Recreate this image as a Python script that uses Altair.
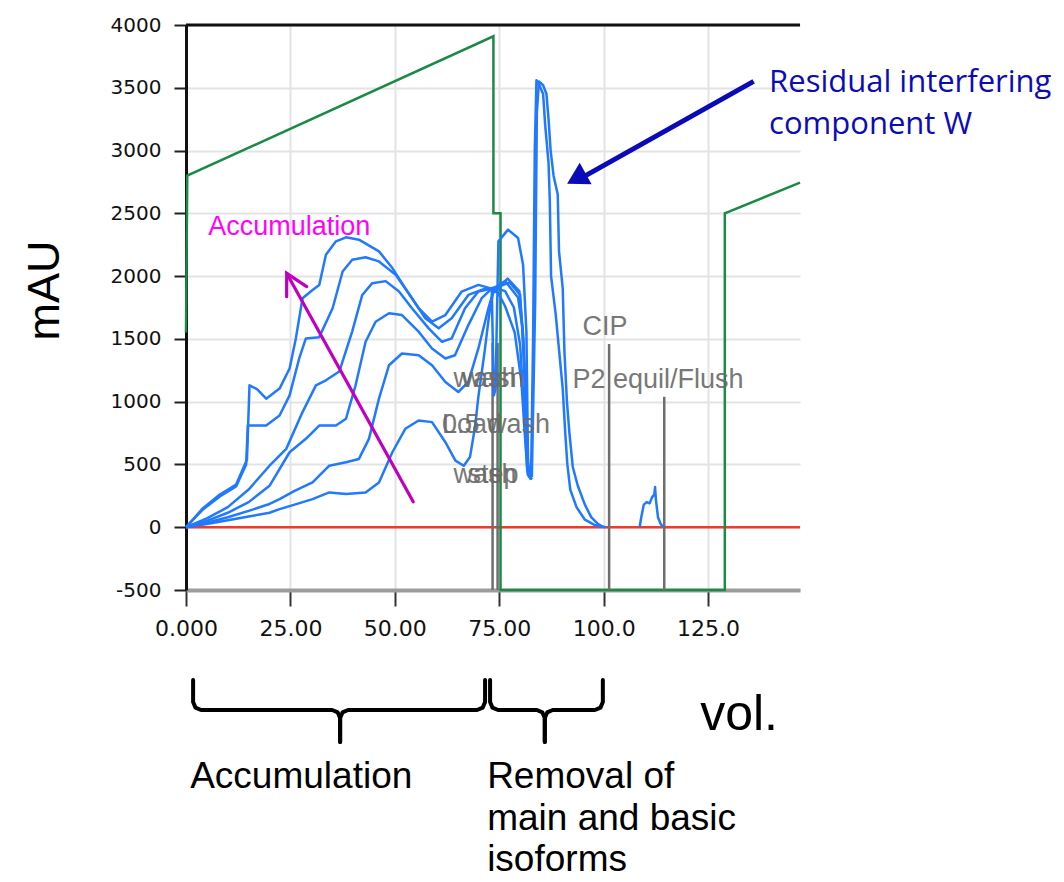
import altair as alt
import pandas as pd

# ---------------------------------------------------------------------------
# UV trace (mAU) against volume for six loading runs, then wash / elution
# ---------------------------------------------------------------------------
t1_x = [0, 5, 10, 15, 20, 22.4, 26, 30.3, 34.3, 38.3, 43, 46.2, 49.4, 52.5, 55.7, 58.9, 62.1, 64.5, 66.5, 68,
        69.2, 70, 71.5, 72.6, 73.5, 74.5, 76.4, 78.7, 80.3, 81.2, 81.8, 82.6]
t1_y = [0, 25, 55, 85, 115, 144, 180, 224, 277, 264, 277, 357, 597, 784, 850, 837, 677, 530, 490, 560,
        800, 1040, 1400, 1700, 1870, 1880, 1760, 1550, 1160, 700, 420, 380]

t2_x = [0, 5, 10, 15, 20, 22.4, 26, 30.3, 34.3, 38.3, 41.4, 43.8, 46.2, 48.6, 51.7, 55.7, 58.9, 62.1, 65.2,
        67.6, 70, 72.4, 73.6, 74.5, 76.4, 78.5, 80.0, 81.0, 81.7, 82.6]
t2_y = [0, 35, 80, 130, 185, 224, 290, 357, 490, 517, 544, 704, 1024, 1290, 1384, 1370, 1290, 1157, 1077,
        1157, 1424, 1744, 1880, 1900, 1880, 1750, 1450, 900, 450, 400]

t3_x = [0, 5, 10, 15, 20, 24.8, 28.7, 31.9, 35.9, 38.3, 40.6, 43, 45.4, 48.6, 51.7, 55.7, 58.9, 62.1, 64.4,
        67.6, 70.8, 73.2, 74.5, 76.4, 79.5, 80.5, 81.2, 81.8, 82.6]
t3_y = [0, 50, 115, 200, 330, 597, 704, 810, 810, 864, 1130, 1477, 1637, 1704, 1690, 1557, 1424, 1344, 1370,
        1610, 1824, 1900, 1920, 1960, 1830, 1600, 1100, 500, 390]

t4_x = [0, 5, 10, 15, 20, 24, 27.9, 31.1, 33.5, 36.7, 39.8, 42.2, 44.6, 47.8, 51, 54.1, 58.1, 61.3, 63.6,
        66.8, 70, 73, 74.5, 77, 79.8, 80.8, 81.5, 82.0, 82.8]
t4_y = [0, 70, 160, 300, 490, 624, 917, 1130, 1170, 1240, 1560, 1850, 1944, 1960, 1877, 1744, 1584, 1477, 1504,
        1744, 1877, 1900, 1900, 1980, 1880, 1500, 800, 430, 400]

t5_x = [0, 4, 8.1, 12, 14.4, 14.8, 19.2, 22.4, 24.8, 27.1, 28.7, 31.9, 35.1, 37.5, 39.8, 43, 46.2, 50.2, 54.1,
        57.3, 60.5, 63.6, 67.6, 71.6, 74.5, 77.5, 80.0, 81.0, 81.6, 82.2, 82.8]
t5_y = [0, 140, 245, 325, 500, 810, 810, 890, 1050, 1344, 1504, 1514, 1744, 2037, 2130, 2150, 2117, 2010, 1824,
        1664, 1584, 1664, 1850, 1900, 1910, 1950, 1850, 1300, 600, 410, 380]

t6_x = [0, 4, 8.1, 12, 14.6, 15.2, 17, 19.2, 22.4, 24.8, 26.3, 27.9, 30.3, 31.9, 33.5, 35.9, 38.3, 41.4, 46.2,
        49.4, 52.5, 55.7, 58.9, 62.1, 66, 70, 73.2, 73.7, 74.1, 74.8, 77.1, 79.5, 80.7, 81.5, 81.9, 82.6]
t6_y = [0, 150, 260, 340, 540, 1130, 1100, 1024, 1104, 1264, 1504, 1824, 1890, 1930, 2170, 2277, 2309, 2290, 2197,
        2064, 1904, 1744, 1637, 1690, 1877, 1930, 1900, 1050, 1100, 2277, 2370, 2304, 2090, 1557, 490, 410]

# residual interfering component W (two overlapping runs)
w1_x = [82.6, 83.1, 83.5, 83.9, 84.6, 85.5, 86.0, 86.8, 87.1, 87.4, 88.5, 90.2, 90.8, 91.3, 92.0, 93.5, 95.5,
        98.0, 100.5]
w1_y = [380, 1500, 3000, 3560, 3520, 3450, 3200, 2900, 2600, 2000, 1700, 1100, 750, 500, 300, 160, 60, 15, 0]
w2_x = [82.8, 83.6, 84.0, 84.5, 85.5, 86.3, 86.8, 87.3, 88.0, 89.0, 89.3, 90.2, 90.6, 91.2, 91.8, 92.6, 93.8,
        95.5, 97.0, 98.5, 100.0]
w2_y = [400, 1800, 3300, 3550, 3520, 3450, 3250, 3000, 2800, 2650, 2200, 1900, 1400, 1000, 750, 480, 330, 180,
        80, 30, 0]

# small peak during equilibration
s_x = [108.6, 109.0, 109.6, 110.3, 111.0, 111.6, 112.1, 112.3, 112.5, 113.0, 113.6, 114.2]
s_y = [0, 80, 180, 200, 190, 240, 260, 320, 220, 80, 30, 0]

# gradient / conductivity trace (green) and baseline (red)
green_x = [0, 0.3, 73.6, 73.6, 75.3, 75.3, 129.0, 129.0, 147]
green_y = [1550, 2800, 3910, 2500, 2500, -500, -500, 2500, 2745]
red_x = [0, 147]
red_y = [0, 0]

# run events
ev_x = [73.4, 74.6, 101.3, 114.5]
ev_top = [1467, 1467, 1459, 1039]
ev_text = ["wash", "wash", "Load", "0.5 wash", "wash", "step", "CIP", "P2 equil/Flush"]
ev_text_x = [71.6, 73.5, 68.5, 74.2, 71.6, 73.5, 100.3, 113.0]
ev_text_y = [1117, 1117, 750, 750, 351, 351, 1531, 1109]

x_ticks = [0, 25, 50, 75, 100, 125]
y_ticks = [-500, 0, 500, 1000, 1500, 2000, 2500, 3000, 3500, 4000]
X_MAX = 147

# ---------------------------------------------------------------------------
xs = alt.Scale(domain=[0, X_MAX], nice=False, zero=False)
ys = alt.Scale(domain=[-500, 4000], nice=False, zero=False)

x_axis = alt.Axis(
    values=x_ticks,
    labelExpr="datum.value == 0 ? '0.000' : (datum.value < 100 ? format(datum.value, '.2f') : format(datum.value, '.1f'))",
    labelFlush=False,
    grid=True, gridColor="#e3e3e3", gridWidth=2,
    domainColor="#9c9c9c", domainWidth=4,
    tickColor="#333333", tickWidth=2, tickSize=16,
    labelFont="DejaVu Sans", labelFontSize=22, labelColor="#111111", labelPadding=12,
    title=None,
)
y_axis = alt.Axis(
    values=y_ticks, labelExpr="'' + datum.value", labelFlush=False,
    grid=True, gridColor="#e3e3e3", gridWidth=2,
    domainColor="#111111", domainWidth=3,
    tickColor="#222222", tickWidth=2, tickSize=12,
    labelFont="DejaVu Sans", labelFontSize=20, labelColor="#111111", labelPadding=13,
    title="mAU", titleFont="Liberation Sans", titleFontSize=45, titleFontWeight="normal",
    titleColor="#000000", titleAngle=270, titleBaseline="alphabetic", titleAlign="center",
    titleX=-128, titleY=265,
)


def X():
    return alt.X("v:Q", scale=xs, axis=x_axis)


def Y():
    return alt.Y("mAU:Q", scale=ys, axis=y_axis)


def series(name, xv, yv):
    return pd.DataFrame({"trace": name, "v": xv, "mAU": yv, "ord": list(range(len(xv)))})


traces = pd.concat([
    series("run 1", t1_x, t1_y), series("run 2", t2_x, t2_y), series("run 3", t3_x, t3_y),
    series("run 4", t4_x, t4_y), series("run 5", t5_x, t5_y), series("run 6", t6_x, t6_y),
    series("W a", w1_x, w1_y), series("W b", w2_x, w2_y), series("peak", s_x, s_y),
])

base_red = alt.Chart(series("baseline", red_x, red_y)).mark_line(
    color="#ee3b2a", strokeWidth=2.5).encode(x=X(), y=Y(), order="ord:Q")

top_border = alt.Chart(series("frame", [0, X_MAX], [4000, 4000])).mark_line(
    color="#111111", strokeWidth=3).encode(x=X(), y=Y(), order="ord:Q")

green = alt.Chart(series("gradient", green_x, green_y)).mark_line(
    color="#1b8a46", strokeWidth=2.5).encode(x=X(), y=Y(), order="ord:Q")

ev_df = pd.DataFrame({"v": ev_x, "mAU": [-500] * len(ev_x), "top": ev_top})
events = alt.Chart(ev_df).mark_rule(color="#6e6e6e", strokeWidth=2.5).encode(
    x=X(), y=Y(), y2=alt.Y2("top:Q"))

blue = alt.Chart(traces).mark_line(color="#2079ff", strokeWidth=2.5, strokeJoin="round").encode(
    x=X(), y=Y(), detail="trace:N", order="ord:Q")

ev_lab_df = pd.DataFrame({"v": ev_text_x, "mAU": ev_text_y, "label": ev_text})
ev_labels = alt.Chart(ev_lab_df).mark_text(
    font="Liberation Sans", fontSize=27, color="#6a6a6a", align="center", baseline="alphabetic",
    opacity=0.9).encode(x=X(), y=Y(), text="label:N")

# --- annotations --------------------------------------------------------------
acc_arrow = pd.concat([
    series("shaft", [54.4, 24.1], [203, 2022]),
    series("head", [28.9, 24.1, 24.1], [1916, 2022, 1836]),
])
acc_arrow_layer = alt.Chart(acc_arrow).mark_line(
    color="#c000c0", strokeWidth=3.2, strokeCap="round", strokeJoin="miter").encode(
    x=X(), y=Y(), detail="trace:N", order="ord:Q")
acc_text = alt.Chart(pd.DataFrame({"v": [5.3], "mAU": [2327], "label": ["Accumulation"]})).mark_text(
    font="Liberation Sans", fontSize=27, color="#ff00ff", align="left", baseline="alphabetic").encode(
    x=X(), y=Y(), text="label:N")

w_arrow = alt.Chart(series("shaft", [135.9, 94.6], [3551, 2780])).mark_line(
    color="#0a0ab8", strokeWidth=5).encode(x=X(), y=Y(), order="ord:Q")
w_head = alt.Chart(pd.DataFrame({"v": [94.2], "mAU": [2790]})).mark_point(
    shape="triangle", filled=True, size=600, angle=241, color="#0a0ab8", opacity=1).encode(x=X(), y=Y())
note_lines = ["Residual interfering", "component W"]
w_text = alt.Chart(pd.DataFrame({"v": [139.6, 139.6], "mAU": [3466, 3132], "label": note_lines})).mark_text(
    font="Open Sans", fontSize=31, color="#0c0cb4", align="left", baseline="alphabetic").encode(
    x=X(), y=Y(), text="label:N")


def brace(name, x0, x1, xm, y_top, y_mid, y_tip, rx=1.9, ry=64):
    left = [(x0, y_top), (x0, y_mid + ry), (x0 + 0.3 * rx, y_mid + 0.3 * ry), (x0 + rx, y_mid),
            (xm - rx, y_mid), (xm - 0.3 * rx, y_mid - 0.3 * ry), (xm, y_mid - ry), (xm, y_tip)]
    right = [(x1, y_top), (x1, y_mid + ry), (x1 - 0.3 * rx, y_mid + 0.3 * ry), (x1 - rx, y_mid),
             (xm + rx, y_mid), (xm + 0.3 * rx, y_mid - 0.3 * ry), (xm, y_mid - ry), (xm, y_tip)]
    return pd.concat([
        series(name + " L", [p[0] for p in left], [p[1] for p in left]),
        series(name + " R", [p[0] for p in right], [p[1] for p in right]),
    ])


braces = pd.concat([
    brace("acc", 1.7, 71.6, 36.9, -1217, -1456, -1711),
    brace("rem", 72.8, 99.8, 85.9, -1217, -1456, -1711),
])
brace_layer = alt.Chart(braces).mark_line(
    color="#000000", strokeWidth=4, strokeJoin="round", strokeCap="round").encode(
    x=X(), y=Y(), detail="trace:N", order="ord:Q")

phase_df = pd.DataFrame({
    "v": [1.0, 72.1, 72.1, 72.1],
    "mAU": [-2080, -2080, -2410, -2735],
    "label": ["Accumulation", "Removal of", "main and basic", "isoforms"],
})
phase_text = alt.Chart(phase_df).mark_text(
    font="Liberation Sans", fontSize=37, color="#000000", align="left", baseline="alphabetic").encode(
    x=X(), y=Y(), text="label:N")
vol_text = alt.Chart(pd.DataFrame({"v": [123.1], "mAU": [-1615], "label": ["vol."]})).mark_text(
    font="Liberation Sans", fontSize=50, color="#000000", align="left", baseline="alphabetic").encode(
    x=X(), y=Y(), text="label:N")

chart = alt.layer(
    base_red, green, events, blue, top_border, ev_labels,
    acc_arrow_layer, acc_text, w_arrow, w_head, w_text,
    brace_layer, phase_text, vol_text,
).properties(
    width=614, height=565,
    autosize=alt.AutoSizeParams(type="none"),
    padding={"left": 186, "top": 25, "right": 264, "bottom": 292},
    background="white",
).configure_view(stroke=None)

chart.save("out.html", embed_options={"renderer": "svg", "actions": False})
